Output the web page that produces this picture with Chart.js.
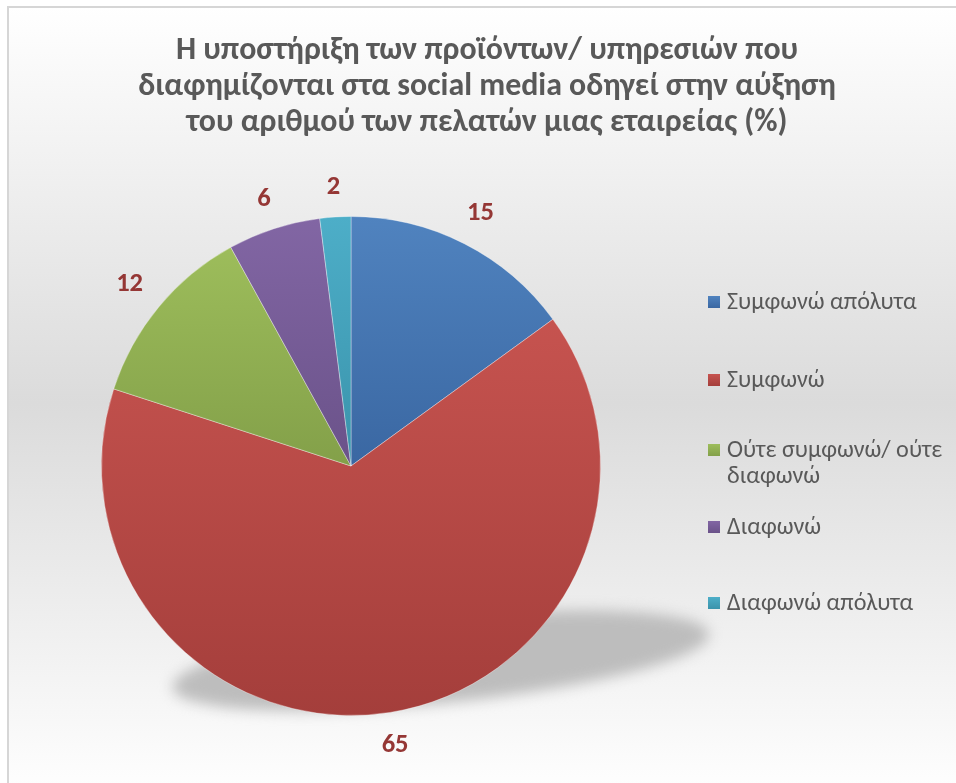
<!DOCTYPE html>
<html>
<head>
<meta charset="utf-8">
<script src="https://cdn.jsdelivr.net/npm/chart.js@4/dist/chart.umd.min.js"></script>
<style>
  html, body { margin: 0; padding: 0; background: #ffffff; }
  #wrap { position: relative; width: 956px; height: 783px; }
</style>
</head>
<body>
<div id="wrap"><canvas id="c" width="956" height="783"></canvas></div>
<script>
// Survey answers (%)
const titleLines = [
  'Η υποστήριξη των προϊόντων/ υπηρεσιών που',
  'διαφημίζονται στα social media οδηγεί στην αύξηση',
  'του αριθμού των πελατών μιας εταιρείας (%)'
];
const categories = ['Συμφωνώ απόλυτα', 'Συμφωνώ', 'Ούτε συμφωνώ/ ούτε διαφωνώ', 'Διαφωνώ', 'Διαφωνώ απόλυτα'];
const legendLines = [['Συμφωνώ απόλυτα'], ['Συμφωνώ'], ['Ούτε συμφωνώ/ ούτε', 'διαφωνώ'], ['Διαφωνώ'], ['Διαφωνώ απόλυτα']];
const values = [15, 65, 12, 6, 2];

// Slice fills: lighter at the top of each slice, darker at the bottom
const topColors = ['#5083bf', '#c6534f', '#9dbd5b', '#8266a4', '#4daec8'];
const bottomColors = ['#3a67a2', '#a43e3b', '#83a049', '#6a5289', '#3a93ab'];

const FONT = '"Carlito", "Open Sans", "Noto Sans", sans-serif';

function arcBounds(chart, i) {
  const a = chart.chartArea;
  const cx = (a.left + a.right) / 2, cy = (a.top + a.bottom) / 2;
  const r = Math.min(a.right - a.left, a.bottom - a.top) / 2;
  const total = values.reduce((s, v) => s + v, 0);
  let before = 0;
  for (let k = 0; k < i; k++) before += values[k];
  const s = -Math.PI / 2 + 2 * Math.PI * before / total;
  const e = s + 2 * Math.PI * values[i] / total;
  const ys = [cy, cy + r * Math.sin(s), cy + r * Math.sin(e)];
  for (let k = -4; k <= 4; k++) {
    const ang = k * Math.PI / 2;
    if (ang >= s && ang <= e) ys.push(cy + r * Math.sin(ang));
  }
  return { top: Math.min(...ys), bottom: Math.max(...ys) };
}

function sliceFill(context) {
  const chart = context.chart;
  const i = context.dataIndex;
  if (!chart.chartArea) return topColors[i];
  const b = arcBounds(chart, i);
  const g = chart.ctx.createLinearGradient(0, b.top, 0, b.bottom);
  g.addColorStop(0, topColors[i]);
  g.addColorStop(1, bottomColors[i]);
  return g;
}

// Font size (px) at which `text` spans `width` pixels
function fitSize(ctx, text, width, weight) {
  ctx.font = weight + ' 100px ' + FONT;
  return 100 * width / ctx.measureText(text).width;
}

const backdrop = {
  id: 'backdrop',
  beforeDraw(chart) {
    const ctx = chart.ctx;
    ctx.save();
    ctx.fillStyle = '#ffffff';
    ctx.fillRect(0, 0, chart.width, chart.height);
    const g = ctx.createLinearGradient(0, 7, 0, 800);
    g.addColorStop(0, '#ffffff');
    g.addColorStop(0.5, '#dbdbdb');
    g.addColorStop(1, '#ffffff');
    ctx.fillStyle = g;
    ctx.fillRect(8, 7, chart.width, chart.height);
    ctx.strokeStyle = '#d6d6d6';
    ctx.lineWidth = 2;
    ctx.beginPath();
    ctx.moveTo(8, chart.height + 5);
    ctx.lineTo(8, 7);
    ctx.lineTo(chart.width + 5, 7);
    ctx.stroke();
    ctx.restore();
  }
};

const pieShadow = {
  id: 'pieShadow',
  beforeDatasetsDraw(chart) {
    const arc = chart.getDatasetMeta(0).data[0];
    if (!arc) return;
    const { x, y, outerRadius: R } = arc.getProps(['x', 'y', 'outerRadius'], true);
    const ctx = chart.ctx;
    ctx.save();
    ctx.filter = 'blur(7px)';
    ctx.fillStyle = '#bdbdbd';
    ctx.beginPath();
    ctx.ellipse(x + 0.36 * R, y + 0.78 * R, 1.08 * R, 0.17 * R, -0.1, 0, Math.PI * 2);
    ctx.fill();
    ctx.restore();
  }
};

const valueLabels = {
  id: 'valueLabels',
  afterDatasetsDraw(chart) {
    const ctx = chart.ctx;
    const meta = chart.getDatasetMeta(0);
    ctx.save();
    const size = fitSize(ctx, '15', 27, 'bold');
    ctx.font = 'bold ' + size.toFixed(1) + 'px ' + FONT;
    ctx.fillStyle = '#953735';
    ctx.textBaseline = 'middle';
    ctx.textAlign = 'center';
    const halfH = size * 0.32;
    meta.data.forEach((arc, i) => {
      const p = arc.getProps(['x', 'y', 'startAngle', 'endAngle', 'outerRadius'], true);
      const mid = (p.startAngle + p.endAngle) / 2;
      const text = String(values[i]);
      const halfW = ctx.measureText(text).width / 2;
      const c = Math.cos(mid), s = Math.sin(mid);
      const d = p.outerRadius + 22 + halfW * Math.abs(c) + halfH * Math.abs(s);
      ctx.fillText(text, p.x + d * c, p.y + d * s + 1);
    });
    ctx.restore();
  }
};

const titleText = {
  id: 'titleText',
  afterDraw(chart) {
    const ctx = chart.ctx;
    ctx.save();
    const size = fitSize(ctx, titleLines[1], 697, 'bold');
    ctx.font = 'bold ' + size.toFixed(1) + 'px ' + FONT;
    ctx.fillStyle = '#595959';
    ctx.textBaseline = 'alphabetic';
    ctx.textAlign = 'center';
    const baselines = [59, 95, 131];
    titleLines.forEach((t, i) => ctx.fillText(t, 487, baselines[i]));
    ctx.restore();
  }
};

const sideLegend = {
  id: 'sideLegend',
  afterDraw(chart) {
    const ctx = chart.ctx;
    const rows = [302, 380, 450, 527, 603];
    const lineGap = 26;
    ctx.save();
    const size = fitSize(ctx, legendLines[0][0], 190, 'normal');
    ctx.font = size.toFixed(1) + 'px ' + FONT;
    ctx.textBaseline = 'middle';
    ctx.textAlign = 'left';
    categories.forEach((c, i) => {
      const y = rows[i];
      const g = ctx.createLinearGradient(0, y - 6, 0, y + 6);
      g.addColorStop(0, topColors[i]);
      g.addColorStop(1, bottomColors[i]);
      ctx.fillStyle = g;
      ctx.fillRect(708, y - 6, 12, 12);
      ctx.fillStyle = '#595959';
      legendLines[i].forEach((t, k) => ctx.fillText(t, 727, y + 1 + k * lineGap));
    });
    ctx.restore();
  }
};

new Chart(document.getElementById('c'), {
  type: 'pie',
  data: {
    labels: categories,
    datasets: [{
      data: values,
      backgroundColor: sliceFill,
      borderColor: 'rgba(255,255,255,0.35)',
      borderWidth: 1
    }]
  },
  options: {
    responsive: false,
    animation: false,
    layout: { padding: { left: 101, right: 355, top: 216, bottom: 67 } },
    plugins: {
      legend: { display: false },
      title: { display: false },
      tooltip: { enabled: false }
    }
  },
  plugins: [backdrop, pieShadow, valueLabels, titleText, sideLegend]
});
</script>
</body>
</html>
